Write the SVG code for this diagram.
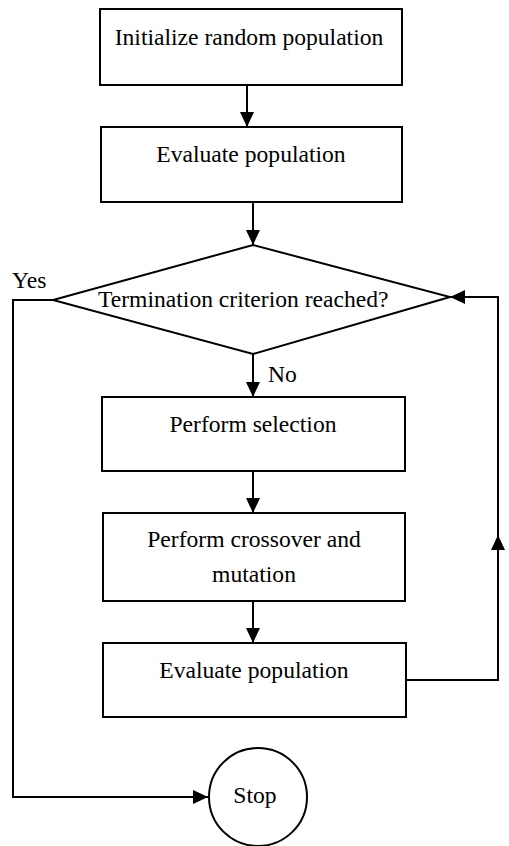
<svg xmlns="http://www.w3.org/2000/svg" width="509" height="846" viewBox="0 0 509 846">
<style>
.box{fill:#fff;stroke:#000;stroke-width:2}
.t{font-family:"Liberation Serif","Times New Roman",serif;font-size:23.6px;fill:#000}
.m{text-anchor:middle}
.c{fill:none;stroke:#000;stroke-width:2}
</style>
<defs>
<marker id="ah" markerUnits="userSpaceOnUse" markerWidth="16" markerHeight="15" refX="15" refY="7" orient="auto">
<path d="M0,0 L15,7 L0,14 z" fill="#000"/>
</marker>
</defs>
<rect width="509" height="846" fill="#fff"/>
<g id="connectors">
<path class="c" d="M247,85 V127" marker-end="url(#ah)"/>
<path class="c" d="M253,202 V245" marker-end="url(#ah)"/>
<path class="c" d="M253,354 V397" marker-end="url(#ah)"/>
<path class="c" d="M253,471 V513" marker-end="url(#ah)"/>
<path class="c" d="M253,601 V643" marker-end="url(#ah)"/>
<path class="c" d="M406,680 H498 V535" marker-end="url(#ah)"/>
<path class="c" d="M498,536 V297 H450" marker-end="url(#ah)"/>
<path class="c" d="M53,300 H13 V797 H208" marker-end="url(#ah)"/>
<text class="t" x="12" y="288">Yes</text>
<text class="t" x="268" y="382">No</text>
</g>
<g id="n1">
<rect class="box" x="100" y="9" width="302" height="76"/>
<text class="t m" x="249" y="45">Initialize random population</text>
</g>
<g id="n2">
<rect class="box" x="101" y="127" width="301" height="75"/>
<text class="t m" x="251" y="162">Evaluate population</text>
</g>
<g id="n3">
<polygon class="box" points="253,245 450,297 253,354 53,300"/>
<text class="t" x="98" y="307">Termination criterion reached?</text>
</g>
<g id="n4">
<rect class="box" x="102" y="397" width="303" height="74"/>
<text class="t m" x="253" y="432">Perform selection</text>
</g>
<g id="n5">
<rect class="box" x="103" y="513" width="302" height="88"/>
<text class="t m" x="254" y="547">Perform crossover and</text>
<text class="t m" x="254" y="582">mutation</text>
</g>
<g id="n6">
<rect class="box" x="103" y="643" width="303" height="74"/>
<text class="t m" x="254" y="678">Evaluate population</text>
</g>
<g id="n7">
<circle class="box" cx="258" cy="797" r="49"/>
<text class="t m" x="255" y="803">Stop</text>
</g>
</svg>
